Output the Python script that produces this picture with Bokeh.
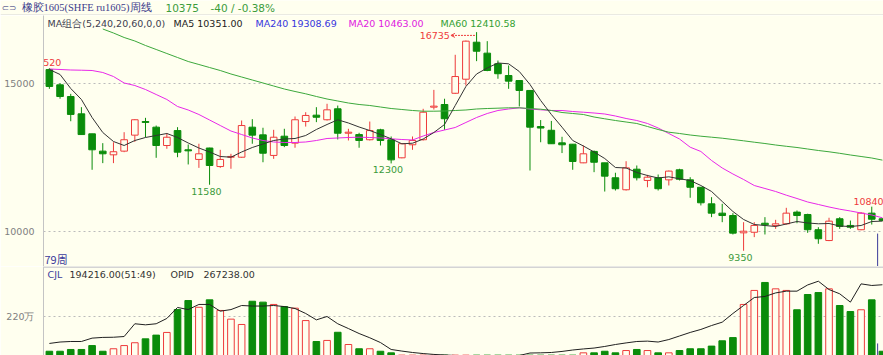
from bokeh.plotting import figure
from bokeh.models import Range1d, FixedTicker, Label, Span, Arrow, OpenHead
from bokeh.layouts import column
from bokeh.embed import file_html
from bokeh.resources import INLINE
from bokeh.core.properties import value

# ---------------- data ----------------
opens = [15470, 14955, 14560, 13975, 13300, 12715, 12590, 12715, 13255, 13715,
         13525, 12905, 13410, 12760, 12435, 12820, 12195, 12510, 12510, 13525,
         13265, 12570, 13220, 12985, 13715, 13930, 13775, 14145, 13320, 13275,
         13100, 13435, 13100, 12490, 12930, 13100, 14200, 14290, 14670, 15145,
         16395, 16025, 15665, 15270, 15100, 14765, 13545, 13420, 12995, 12950,
         12320, 12705, 12320, 11815, 11410, 12105, 11725, 11815, 11745, 12085,
         11745, 11495, 10935, 10620, 10540, 9955, 9975, 10280, 10205, 10260,
         10655, 10575, 10060, 9695, 10430, 10205, 10060, 10620, 10430]
highs = [15520, 15010, 14650, 14200, 13300, 12985, 13015, 13355, 13795, 13840,
         13580, 13320, 13525, 12940, 12965, 12830, 12760, 12625, 13750, 13795,
         13505, 13435, 13470, 13885, 14030, 14200, 14315, 14255, 13470, 13335,
         13715, 13470, 13210, 12985, 13210, 14145, 14785, 14485, 15970, 16450,
         16735, 16430, 15775, 15610, 15100, 14765, 13765, 13735, 13200, 12950,
         12905, 12735, 12320, 11985, 12375, 12230, 11915, 11925, 12060, 12120,
         11835, 11495, 11160, 10935, 10620, 10315, 10315, 10485, 10395, 10800,
         10710, 10600, 10145, 10465, 10485, 10370, 10655, 10840, 10440]
lows = [14820, 14485, 13725, 13270, 12085, 12310, 12310, 12680, 13030, 13185,
        12490, 12795, 12510, 12265, 12150, 11580, 12150, 12120, 12490, 12965,
        12340, 12455, 12850, 12830, 13545, 13695, 13750, 13110, 13075, 12830,
        13075, 12905, 12300, 12475, 12760, 13075, 14120, 13435, 14650, 14930,
        15755, 15415, 15160, 14820, 14225, 12060, 13015, 12965, 12650, 12085,
        12310, 12005, 11350, 11385, 11385, 11725, 11495, 11385, 11555, 11725,
        11140, 10880, 10485, 10315, 9900, 9350, 9810, 9900, 10090, 10235,
        10280, 9955, 9585, 9675, 10090, 10090, 10045, 10235, 10350]
closes = [14900, 14560, 13955, 13275, 12760, 12625, 12695, 13100, 13775, 13685,
          12905, 13185, 12680, 12725, 12625, 12230, 12435, 12535, 13580, 13255,
          12645, 13185, 12905, 13775, 13920, 13860, 14110, 13320, 13355, 13075,
          13410, 13075, 12420, 12965, 13075, 14030, 14235, 13810, 15235, 16430,
          16090, 15440, 15330, 15080, 14765, 13525, 13495, 12965, 12930, 12365,
          12625, 12340, 11870, 11445, 12150, 11815, 11835, 11445, 12040, 11765,
          11495, 10970, 10620, 10540, 9945, 10010, 10205, 10225, 10260, 10620,
          10540, 10060, 9755, 10350, 10170, 10145, 10620, 10415, 10375]

ma5 = [15473, 15304, 14831, 14460, 13851, 13345, 13041, 12906, 13074, 13176,
       13243, 13311, 13176, 12990, 12821, 12686, 12534, 12510, 12686, 12838,
       12956, 13074, 13125, 13142, 13243, 13446, 13615, 13774, 13666, 13530,
       13412, 13277, 13132, 12963, 12983, 13125, 13345, 13615, 14257, 14899,
       15321, 15524, 15692, 15665, 15405, 14966, 14426, 13953, 13524, 13074,
       12889, 12686, 12466, 12162, 12146, 11994, 11892, 11808, 11848, 11781,
       11723, 11554, 11352, 11014, 10676, 10406, 10237, 10203, 10169, 10254,
       10338, 10288, 10261, 10271, 10186, 10169, 10203, 10338, 10351]
ma20 = [15490, 15473, 15456, 15449, 15439, 15372, 15236, 15017, 14932, 14797,
        14628, 14460, 14223, 14105, 13953, 13767, 13581, 13395, 13277, 13159,
        13074, 13024, 13007, 13007, 13024, 13074, 13142, 13159, 13176, 13186,
        13176, 13159, 13132, 13108, 13091, 13226, 13345, 13429, 13514, 13683,
        13851, 13987, 14088, 14139, 14179, 14139, 14111, 14088, 14088, 14054,
        14030, 14003, 13970, 13902, 13818, 13750, 13649, 13497, 13311, 13125,
        12848, 12703, 12399, 12146, 11943, 11757, 11554, 11453, 11352, 11227,
        11115, 10997, 10913, 10828, 10754, 10693, 10625, 10558, 10463]
ma60_start = 5
ma60 = [16841, 16706, 16554, 16436, 16284,
        16149, 16013, 15878, 15743, 15642, 15540, 15439, 15321, 15220, 15118,
        15017, 14915, 14814, 14730, 14652, 14561, 14476, 14409, 14341, 14291,
        14257, 14206, 14155, 14122, 14088, 14064, 14064, 14071, 14088, 14105,
        14139, 14155, 14166, 14179, 14179, 14155, 14132, 14088, 14020, 13987,
        13953, 13868, 13808, 13750, 13699, 13649, 13547, 13446, 13355, 13311,
        13260, 13220, 13186, 13152, 13108, 13064, 13017, 12973, 12922, 12879,
        12838, 12787, 12737, 12693, 12642, 12585, 12534, 12483, 12411]

# volume and open interest (units of 万, as on the axis)
volume = [24, 24, 34, 34, 56, 24, 38, 56, 72, 94,
          115, 130, 259, 310, 272, 314, 254, 205, 175, 306,
          301, 288, 276, 267, 197, 79, 85, 131, 62, 38,
          38, 24, 15, 2, 2, 2, 2, 2, 2, 2,
          2, 2, 2, 2, 2, 2, 2, 2, 2, 2,
          15, 15, 24, 15, 28, 34, 28, 15, 15, 28,
          38, 38, 53, 83, 101, 288, 367, 412, 376, 367,
          258, 344, 355, 376, 282, 248, 258, 314, 24]
oi = [68, 76, 79, 79, 98, 102, 103, 107, 179, 173,
      179, 209, 271, 259, 288, 288, 250, 259, 282, 279,
      279, 282, 276, 265, 237, 201, 220, 179, 152, 124,
      100, 73, 34, 25, 17, 11, 6, 3, 0, 0,
      0, 0, 0, 0, 0, 14, 15, 17, 23, 31,
      37, 42, 51, 62, 71, 79, 81, 76, 90, 110,
      130, 147, 169, 188, 237, 282, 327, 333, 353, 363,
      363, 398, 419, 372, 348, 301, 404, 395, 399]

price_ticks = [10000, 15000]
vol_ticks = [220]
vol_tick_labels = {220: "220万"}

hi_labels = [(0, "15520"), (77, "10840")]
lo_labels = [(15, "11580"), (32, "12300"), (65, "9350")]
peak_index = 40

title_text = "橡胶1605(SHFE ru1605)周线"
last_price = "10375"
change_text = "-40 / -0.38%"
ma_legend = [("MA组合(5,240,20,60,0,0)", "#404050"), ("MA5 10351.00", "#222222"),
             ("MA240 19308.69", "#3535DD"), ("MA20 10463.00", "#E020E0"),
             ("MA60 12410.58", "#33A033")]
vol_legend = [("CJL", "#3c3c9c"), ("194216.00(51:49)", "#333333"),
              ("OPID", "#333333"), ("267238.00", "#333333")]

# ---------------- styling ----------------
BG = "#FFFFEF"
UP = "#EE3B3B"
DOWN = "#0A8C0A"
FONT = "DejaVu Sans"
GRID = "#BBBBBB"
AXIS = "#C4C4C4"

n = len(closes)
idx = list(range(n))
is_up = [c >= o for o, c in zip(opens, closes)]
col = [UP if u else DOWN for u in is_up]
fill = [BG if u else DOWN for u in is_up]
top = [max(o, c) for o, c in zip(opens, closes)]
bot = [min(o, c) for o, c in zip(opens, closes)]

xr = Range1d(-0.55, 78.1)


def lab(fig, x, y, text, color, size="9.5px", font=FONT):
    fig.add_layout(Label(x=x, y=y, x_units="screen", y_units="screen", text=text,
                         text_color=color, text_font=font, text_font_size=size,
                         text_baseline="middle", text_align="left"))


def style_axis(fig, ticks, overrides=None):
    a = fig.yaxis[0]
    a.ticker = FixedTicker(ticks=ticks)
    if overrides:
        a.major_label_overrides = overrides
    a.major_tick_line_color = None
    a.minor_tick_line_color = None
    a.axis_line_color = AXIS
    a.major_label_text_color = "#808080"
    a.major_label_text_font = FONT
    a.major_label_text_font_size = "9.5px"
    a.major_label_standoff = 3
    fig.xgrid.visible = False
    fig.ygrid.ticker = FixedTicker(ticks=ticks)
    fig.ygrid.grid_line_color = GRID
    fig.ygrid.grid_line_dash = "2 3"


# ---------------- header strip ----------------
p0 = figure(width=883, height=15, x_range=Range1d(0, 883), y_range=Range1d(0, 15),
            output_backend="svg", toolbar_location=None, x_axis_location=None,
            y_axis_location=None, min_border=0, background_fill_color=BG,
            border_fill_color=BG, outline_line_color=None)
if "frame_align" in p0.properties():
    p0.frame_align = False
p0.grid.visible = False
p0.add_layout(Span(location=0.5, dimension="width", line_color="#D4D4D4", line_width=1))
lab(p0, 1, 8, "⊂⊃", "#6a6a9a", "9px")
lab(p0, 21, 8, title_text, "#3c3c8c", "10.5px", "Liberation Serif")
lab(p0, 165, 8, last_price, "#3C9C3C", "10.5px")
lab(p0, 210, 8, change_text, "#3C9C3C", "10.5px")

# ---------------- price panel ----------------
p = figure(width=883, height=251, x_range=xr, y_range=Range1d(8818, 17297),
           output_backend="svg", toolbar_location=None, x_axis_location=None,
           min_border=0, min_border_left=43, background_fill_color=BG,
           border_fill_color=BG, outline_line_color=None)
style_axis(p, price_ticks)

# candles
p.segment(x0=idx, y0=lows, x1=idx, y1=highs, color=col, line_width=1)
p.vbar(x=idx, width=0.62, top=top, bottom=bot, fill_color=fill, line_color=col, line_width=1)

# moving averages
p.line(idx, ma20, color="#E828E8", line_width=1)
p.line(list(range(ma60_start, n)), ma60, color="#3CA83C", line_width=1)
p.line(idx, ma5, color="#333333", line_width=1)

# high / low annotations
p.text(x=[i - 0.3 for i, _ in hi_labels], y=[highs[i] for i, _ in hi_labels],
       text=[t for _, t in hi_labels], text_align="center", text_baseline="bottom",
       y_offset=-2, text_color=UP, text_font=value(FONT), text_font_size="9.5px")
p.text(x=[i - 0.3 for i, _ in lo_labels], y=[lows[i] for i, _ in lo_labels],
       text=[t for _, t in lo_labels], text_align="center", text_baseline="top",
       y_offset=3, text_color="#3A9A3A", text_font=value(FONT), text_font_size="9.5px")
peak_y = highs[peak_index] - 110
p.text(x=[peak_index - 2.5], y=[peak_y], text=[str(highs[peak_index])],
       text_align="right", text_baseline="middle", text_color=UP,
       text_font=value(FONT), text_font_size="9.5px")
p.add_layout(Arrow(x_start=peak_index - 0.15, y_start=peak_y, x_end=peak_index - 2.4, y_end=peak_y,
                   line_color=UP, line_width=1, line_dash="2 1",
                   end=OpenHead(size=4, line_color=UP, line_width=1)))

# cursor marker
cursor_x = 77.55
p.segment(x0=[cursor_x], y0=[9930], x1=[cursor_x], y1=[8818], color="#3a3a9a", line_width=1)

ma_x = [4, 130, 212, 305, 397]
for (t, c), xx in zip(ma_legend, ma_x):
    lab(p, xx, 243, t, c)
lab(p, 1, 8, "79周", "#3c3c9c", "11px", "Noto Sans CJK SC")

# ---------------- volume panel ----------------
p2 = figure(width=883, height=89, x_range=xr, y_range=Range1d(0, 502),
            output_backend="svg", toolbar_location=None, x_axis_location=None,
            min_border=0, min_border_left=43, background_fill_color=BG,
            border_fill_color=BG, outline_line_color=None)
style_axis(p2, vol_ticks, vol_tick_labels)

p2.vbar(x=idx, width=0.62, top=volume, bottom=0, fill_color=fill, line_color=col, line_width=1)
p2.line(idx, oi, color="#202020", line_width=1)
p2.segment(x0=[cursor_x], y0=[68], x1=[cursor_x], y1=[0], color="#3a3a9a", line_width=1)
p2.add_layout(Span(location=499, dimension="width", line_color="#D4D4D4", line_width=2))

vx = [4, 26, 127, 160]
for (t, c), xx in zip(vol_legend, vx):
    lab(p2, xx, 81, t, c)

layout = column(p0, p, p2, spacing=0)
open("out.html", "w").write(file_html(layout, INLINE))
